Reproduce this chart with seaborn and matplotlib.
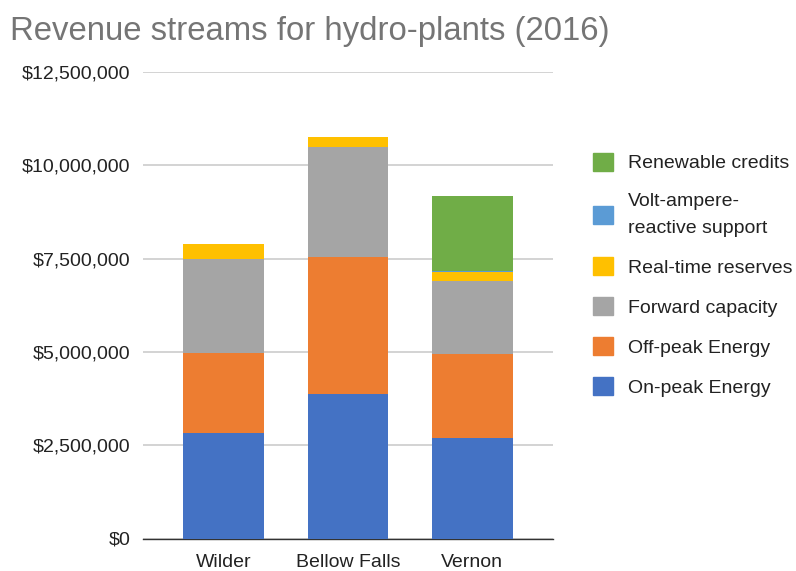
import numpy as np
import pandas as pd
import matplotlib
matplotlib.use("Agg")
import matplotlib.pyplot as plt
import matplotlib.patches as mpatches
from matplotlib.ticker import FuncFormatter
import seaborn as sns

sns.set_style("white")
plt.rcParams['font.family'] = ['Liberation Sans', 'DejaVu Sans']

# Données (USD)
plants = ["Wilder", "Bellow Falls", "Vernon"]
on_peak = [2830000, 3860000, 2700000]
off_peak = [2150000, 3670000, 2240000]
forward_capacity = [2510000, 2960000, 1960000]
real_time = [400000, 270000, 230000]
volt_ampere = [0, 0, 40000]
renewable = [0, 0, 2010000]

series = [
    ("On-peak Energy", on_peak, "#4472C4"),
    ("Off-peak Energy", off_peak, "#ED7D31"),
    ("Forward capacity", forward_capacity, "#A5A5A5"),
    ("Real-time reserves", real_time, "#FFC000"),
    ("Volt-ampere-\nreactive support", volt_ampere, "#5B9BD5"),
    ("Renewable credits", renewable, "#70AD47"),
]

df = pd.DataFrame({"plant": plants})
cum = np.zeros(len(plants))
cols = []
for name, vals, color in series:
    cum = cum + np.array(vals)
    df[name] = cum
    cols.append((name, color))

fig = plt.figure(figsize=(7.96, 5.71), dpi=100)
ax = fig.add_axes([143/796, 1 - 538.5/571, 410/796, 466.5/571])

# barres empilées : on dessine du haut vers le bas
for name, color in reversed(cols):
    sns.barplot(data=df, x="plant", y=name, color=color, width=0.65,
                saturation=1, ax=ax, zorder=3, linewidth=0, edgecolor="none")

ax.set_xlim(-0.65, 2.65)
ax.set_ylim(0, 12500000)
ax.set_yticks(np.arange(0, 12500001, 2500000))
ax.yaxis.set_major_formatter(FuncFormatter(lambda v, p: "${:,.0f}".format(v)))
ax.grid(axis="y", color="#CCCCCC", linewidth=1.2, zorder=0)
ax.set_axisbelow(True)
for s in ["top", "right", "left"]:
    ax.spines[s].set_visible(False)
ax.spines["bottom"].set_color("#333333")
ax.spines["bottom"].set_linewidth(1)
ax.set_xlabel("")
ax.set_ylabel("")
ax.tick_params(axis="both", length=0, labelsize=14, colors="#222222")
ax.tick_params(axis="y", pad=9)
ax.tick_params(axis="x", pad=11)

fig.text(10/796, 1 - 40/571, "Revenue streams for hydro-plants (2016)",
         fontsize=23.7, color="#757575", ha="left", va="baseline")

handles = [mpatches.Patch(facecolor=c, edgecolor=c, label=n) for n, v, c in reversed(series)]
leg = fig.legend(handles=handles, loc="upper left", bbox_to_anchor=(585/796, 1 - 145/571),
                 frameon=False, fontsize=14, labelspacing=1.05, handlelength=1.05,
                 handleheight=1.05, handletextpad=0.75, labelcolor="#222222",
                 borderaxespad=0)
for t in leg.get_texts():
    t.set_linespacing(1.75)

fig.savefig("out.png", dpi=100)
